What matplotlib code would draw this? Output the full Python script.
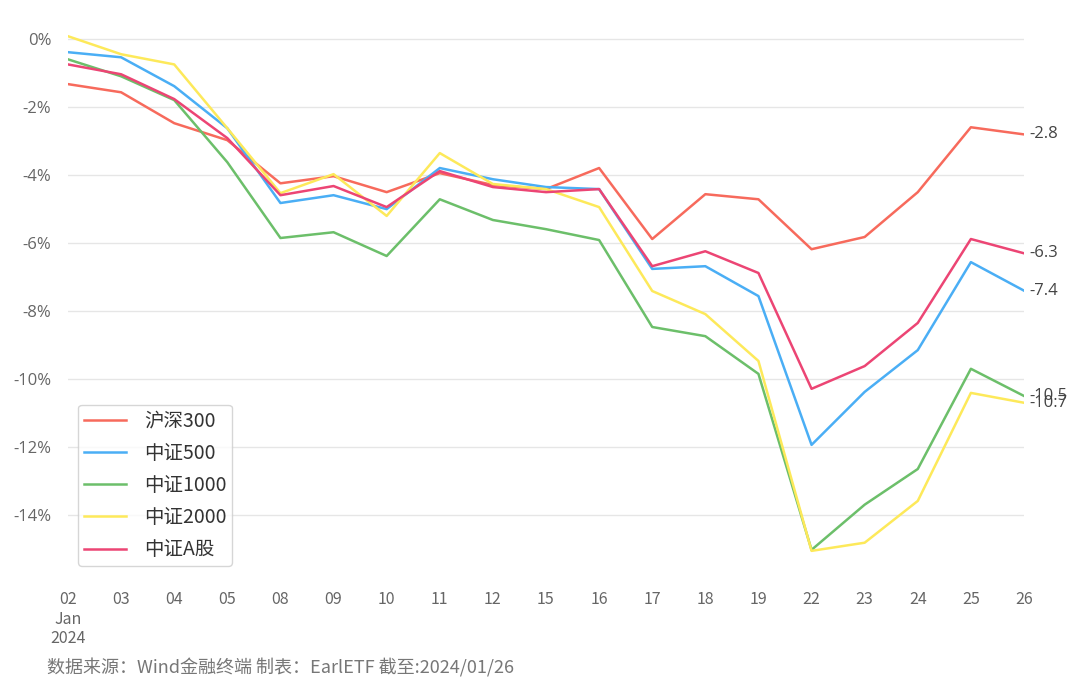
import matplotlib
matplotlib.use("Agg")
import matplotlib.pyplot as plt

plt.rcParams['font.family'] = ['Noto Sans CJK SC', 'DejaVu Sans']

# trading days, Jan 2024
days = ['02', '03', '04', '05', '08', '09', '10', '11', '12', '15',
        '16', '17', '18', '19', '22', '23', '24', '25', '26']

# cumulative return, %
hs300 = [-1.32, -1.56, -2.47, -2.97, -4.24, -4.03, -4.50, -3.94, -4.29, -4.41,
         -3.79, -5.88, -4.56, -4.71, -6.18, -5.82, -4.50, -2.59, -2.80]
zz500 = [-0.38, -0.53, -1.38, -2.62, -4.82, -4.59, -5.00, -3.79, -4.12, -4.35,
         -4.41, -6.76, -6.68, -7.56, -11.94, -10.38, -9.15, -6.56, -7.40]
zz1000 = [-0.59, -1.09, -1.79, -3.62, -5.85, -5.68, -6.38, -4.71, -5.32, -5.59,
          -5.91, -8.47, -8.74, -9.85, -15.03, -13.70, -12.65, -9.70, -10.50]
zz2000 = [0.09, -0.44, -0.74, -2.62, -4.53, -3.97, -5.20, -3.35, -4.26, -4.41,
          -4.94, -7.41, -8.09, -9.47, -15.06, -14.82, -13.59, -10.41, -10.70]
zzA = [-0.74, -1.03, -1.76, -2.91, -4.59, -4.32, -4.94, -3.88, -4.35, -4.50,
       -4.41, -6.68, -6.24, -6.88, -10.29, -9.62, -8.35, -5.88, -6.30]

names = ['沪深300', '中证500', '中证1000', '中证2000', '中证A股']
series = [hs300, zz500, zz1000, zz2000, zzA]
colors = ['#f76a5c', '#4aaef5', '#6cbf6a', '#fde95a', '#ec4574']

fig = plt.figure(figsize=(10.8, 6.89), dpi=100)
ax = fig.add_axes([68 / 1080, 1 - 576 / 689, (1024 - 68) / 1080, (576 - 24) / 689])

xs = list(range(len(days)))
for name, ys, c in zip(names, series, colors):
    ax.plot(xs, ys, color=c, lw=1.8, label=name)

# end labels (the two small caps overlap, as in the original)
for ys in series:
    ax.text(xs[-1] + 0.1, ys[-1], '%.1f' % ys[-1], va='center', ha='left',
            fontsize=12, color='#444444', family='Open Sans')

ax.set_xlim(0, len(days) - 1)
ax.set_ylim(-15.8, 0.45)
ax.set_yticks(range(0, -15, -2))
ax.set_yticklabels(['%d%%' % v for v in range(0, -15, -2)], family='Open Sans')
ax.set_xticks(xs)
ax.set_xticklabels(['02\nJan\n2024'] + days[1:])
ax.tick_params(axis='both', length=0, labelsize=12, labelcolor='#666666')
ax.tick_params(axis='y', pad=12)
ax.tick_params(axis='x', pad=11, labelsize=11.5)
ax.grid(axis='y', color='#e6e6e6', lw=1)
ax.set_axisbelow(True)
for s in ax.spines.values():
    s.set_visible(False)

leg = ax.legend(loc='lower left', bbox_to_anchor=(0.0, 0.0), fontsize=14,
                frameon=True, handlelength=2.2, handletextpad=0.9,
                labelspacing=0.58, borderpad=0.3, borderaxespad=0.5)
leg.get_frame().set_edgecolor('#cccccc')
leg.get_frame().set_linewidth(1)
for t in leg.get_texts():
    t.set_color('#333333')

fig.text(47 / 1080, 1 - 668 / 689, '数据来源：Wind金融终端 制表：EarlETF 截至:2024/01/26',
         fontsize=13, color='#777777', va='center', ha='left')

fig.savefig('out.png', dpi=100)
